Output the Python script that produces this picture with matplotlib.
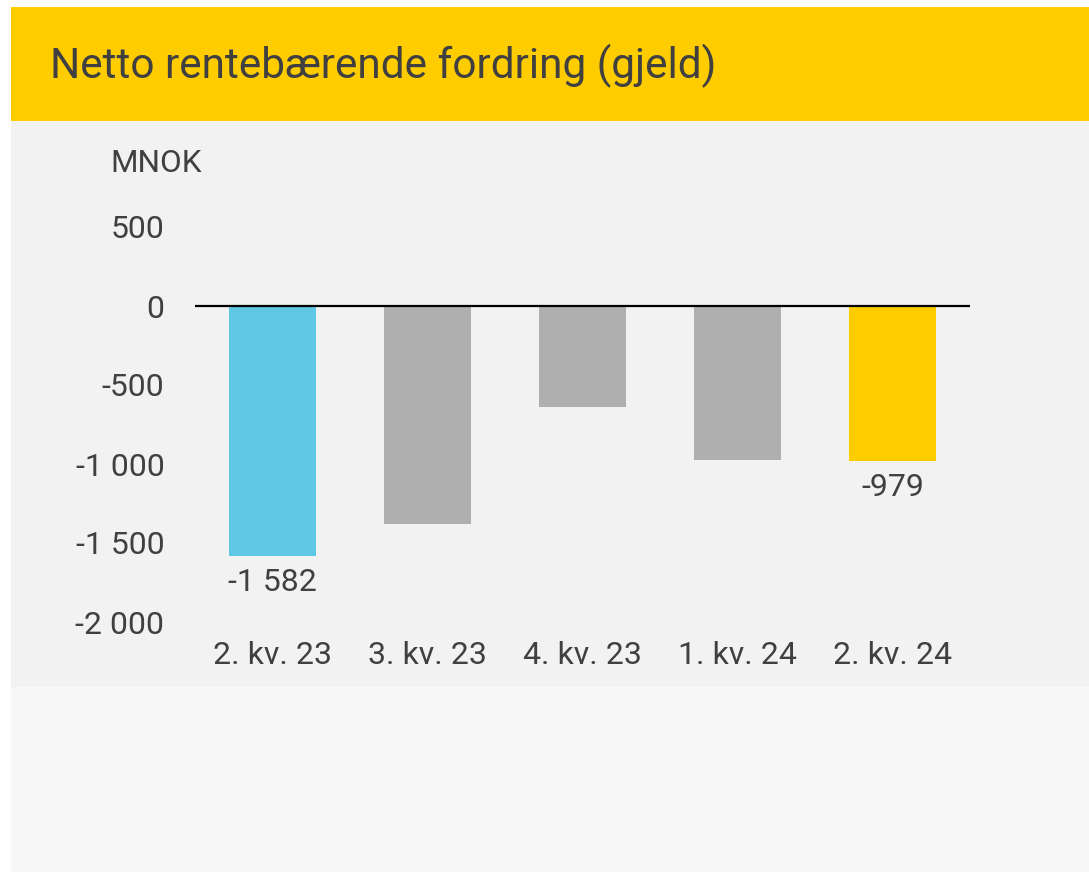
import matplotlib.pyplot as plt
from matplotlib.patches import Rectangle

quarters = ['2. kv. 23', '3. kv. 23', '4. kv. 23', '1. kv. 24', '2. kv. 24']
values = [-1582, -1380, -642, -972, -979]
bar_colors = ['#5ec8e5', '#afafaf', '#afafaf', '#afafaf', '#ffcc00']
labelled = {0: '-1 582', 4: '-979'}
yticks = [500, 0, -500, -1000, -1500, -2000]
ytick_labels = ['500', '0', '-500', '-1 000', '-1 500', '-2 000']

plt.rcParams['font.family'] = ['Roboto', 'DejaVu Sans']
text_color = '#404040'

W, H = 1089, 874
fig = plt.figure(figsize=(W / 100, H / 100), dpi=100)
fig.patch.set_facecolor('white')


def box(x0, y0, x1, y1, color):
    # pixel coords from top-left
    fig.patches.append(Rectangle((x0 / W, 1 - y1 / H), (x1 - x0) / W, (y1 - y0) / H,
                                 transform=fig.transFigure, facecolor=color,
                                 edgecolor='none', zorder=-10))


box(11, 7, W, 121, '#ffcc00')
box(11, 121, W, 687, '#f2f2f2')
box(11, 687, W, 872, '#f7f7f7')

fig.text(50 / W, 1 - 66 / H, 'Netto rentebærende fordring (gjeld)', fontsize=30.5,
         color=text_color, ha='left', va='center')
fig.text(110 / W, 1 - 163 / H, 'MNOK', fontsize=22.7, color=text_color,
         ha='left', va='center')

ax = fig.add_axes([195 / W, 1 - 622 / H, 775 / W, 395 / H])
ax.set_facecolor('none')
x = range(len(quarters))
ax.bar(x, values, width=0.555, color=bar_colors, zorder=2)
ax.axhline(0, color='black', lw=1.6, zorder=3)
ax.set_xlim(-0.5, len(quarters) - 0.5)
ax.set_ylim(-2000, 500)
ax.set_yticks(yticks)
ax.set_yticklabels(ytick_labels)
ax.set_xticks(list(x))
ax.set_xticklabels(quarters)
ax.tick_params(axis='both', length=0, labelsize=23, labelcolor=text_color)
ax.tick_params(axis='y', pad=22)
ax.tick_params(axis='x', pad=14)
for s in ax.spines.values():
    s.set_visible(False)

for i, lab in labelled.items():
    ax.annotate(lab, (i, values[i]), xytext=(0, -9), textcoords='offset points',
                ha='center', va='top', fontsize=23, color=text_color)

fig.savefig('out.png', dpi=100)
